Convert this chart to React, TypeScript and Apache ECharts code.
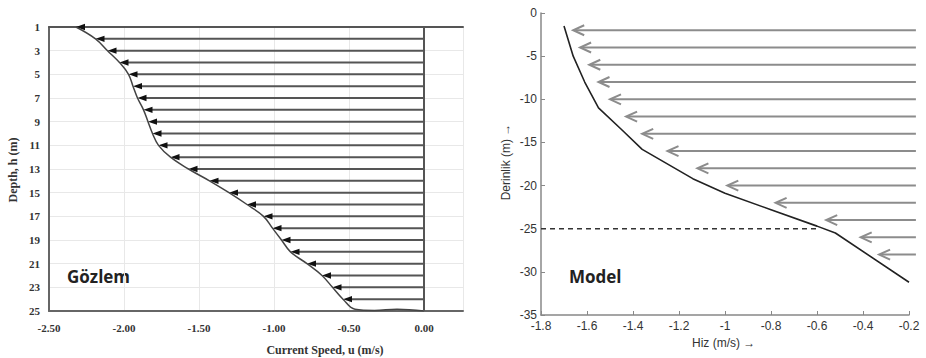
import React, { useEffect, useRef } from 'react';
import * as echarts from 'echarts';

// ---------- Left panel (Gözlem / observation) ----------
const obsDepths = [1, 2, 3, 4, 5, 6, 7, 8, 9, 10, 11, 12, 13, 14, 15, 16, 17, 18, 19, 20, 21, 22, 23, 24];
const obsSpeeds = [-2.32, -2.19, -2.11, -2.03, -1.97, -1.94, -1.91, -1.87, -1.84, -1.81, -1.77, -1.69, -1.57, -1.43, -1.3, -1.18, -1.07, -1.01, -0.95, -0.89, -0.78, -0.68, -0.61, -0.54];
const obsTailSpeeds = [-0.46, -0.33, -0.18, 0.0];
const obsTailDepths = [24.85, 24.95, 24.85, 25];
const obsXMin = -2.5;
const obsXMax = 0.26;

// ---------- Right panel (Model) ----------
const modelArrowDepths = [-2, -4, -6, -8, -10, -12, -14, -16, -18, -20, -22, -24, -26, -28];
const modelArrowTips = [-1.66, -1.63, -1.59, -1.55, -1.5, -1.43, -1.36, -1.25, -1.12, -0.99, -0.78, -0.56, -0.41, -0.33];
const modelArrowStart = -0.17;
const modelCurveSpeeds = [-1.7, -1.66, -1.61, -1.55, -1.45, -1.36, -1.14, -1.0, -0.8, -0.6, -0.52, -0.2];
const modelCurveDepths = [-1.5, -5, -8, -11, -13.5, -15.8, -19.2, -20.9, -22.8, -24.7, -25.5, -31.2];
const refDepth = -25;
const refEndSpeed = -0.59;

const serif = '"Liberation Serif", "DejaVu Serif", serif';
const sans = '"Liberation Sans", Arial, sans-serif';
const boldSans = '"Open Sans", "Noto Sans", sans-serif';

export default function App() {
  const ref = useRef<HTMLDivElement>(null);
  useEffect(() => {
    if (!ref.current) return;
    const chart = echarts.init(ref.current, null, { renderer: 'svg' });

    const obsArrowData = obsDepths.map((d, i) => [obsSpeeds[i], d]);
    const obsCurve = obsDepths.map((d, i) => [obsSpeeds[i], d]).concat(obsTailDepths.map((d, i) => [obsTailSpeeds[i], d]));
    const modelArrowData = modelArrowDepths.map((d, i) => [modelArrowTips[i], d]);
    const modelCurve = modelCurveDepths.map((d, i) => [modelCurveSpeeds[i], d]);

    const option: any = {
      animation: false,
      backgroundColor: '#fff',
      grid: [
        { left: 49, top: 27, width: 414, height: 284 },
        { left: 541, top: 13, width: 368, height: 302 },
      ],
      xAxis: [
        {
          type: 'value', gridIndex: 0, min: obsXMin, max: obsXMax, interval: 0.5,
          axisLine: { show: true, onZero: false, lineStyle: { color: '#666', width: 2 } },
          axisTick: { show: false },
          axisLabel: {
            color: '#333', fontFamily: serif, fontWeight: 'bold', fontSize: 11, margin: 11,
            formatter: (v: number) => (v > 0.001 ? '' : v.toFixed(2)),
          },
          splitLine: { show: true, lineStyle: { color: '#e8e8e8', width: 1 } },
        },
        {
          type: 'value', gridIndex: 0, min: obsXMin, max: obsXMax, position: 'top',
          axisLine: { show: true, onZero: false, lineStyle: { color: '#555', width: 2 } },
          axisTick: { show: false }, axisLabel: { show: false }, splitLine: { show: false },
        },
        {
          type: 'value', gridIndex: 1, min: -1.8, max: -0.2, interval: 0.2,
          axisLine: { show: true, onZero: false, lineStyle: { color: '#888', width: 1.5 } },
          axisTick: { show: true, inside: true, length: 4, lineStyle: { color: '#888' } },
          axisLabel: {
            color: '#333', fontFamily: sans, fontSize: 12, margin: 5,
            formatter: (v: number) => String(Math.round(v * 10) / 10),
          },
          splitLine: { show: false },
        },
      ],
      yAxis: [
        {
          type: 'value', gridIndex: 0, min: 1, max: 25, interval: 2, inverse: true,
          axisLine: { show: true, onZero: false, lineStyle: { color: '#666', width: 2 } },
          axisTick: { show: false },
          axisLabel: { color: '#333', fontFamily: serif, fontWeight: 'bold', fontSize: 11, margin: 9 },
          splitLine: { show: true, lineStyle: { color: '#e8e8e8', width: 1 } },
        },
        {
          type: 'value', gridIndex: 1, min: -35, max: 0, interval: 5,
          axisLine: { show: true, onZero: false, lineStyle: { color: '#888', width: 1.5 } },
          axisTick: { show: true, inside: true, length: 4, lineStyle: { color: '#888' } },
          axisLabel: { color: '#333', fontFamily: sans, fontSize: 12, margin: 4 },
          splitLine: { show: false },
        },
      ],
      series: [
        {
          type: 'custom', xAxisIndex: 0, yAxisIndex: 0, clip: false, z: 3,
          encode: { x: 0, y: 1 },
          data: obsArrowData,
          renderItem: (params: any, api: any) => {
            const v = api.value(0), d = api.value(1);
            const s = api.coord([0, d]);
            const e = api.coord([v, d]);
            return {
              type: 'group',
              children: [
                { type: 'line', shape: { x1: s[0], y1: s[1], x2: e[0] + 5, y2: e[1] }, style: { stroke: '#555', lineWidth: 2 } },
                { type: 'polygon', shape: { points: [[e[0], e[1]], [e[0] + 9, e[1] - 3.2], [e[0] + 9, e[1] + 3.2]] }, style: { fill: '#111' } },
              ],
            };
          },
        },
        {
          type: 'line', xAxisIndex: 0, yAxisIndex: 0, data: obsCurve, smooth: 0.4, showSymbol: false,
          lineStyle: { color: '#444', width: 1.5 }, z: 4,
          markLine: {
            silent: true, symbol: 'none', label: { show: false },
            lineStyle: { color: '#555', width: 2, type: 'solid' },
            data: [[{ coord: [0, 1] }, { coord: [0, 25] }]],
          },
        },
        {
          type: 'custom', xAxisIndex: 2, yAxisIndex: 1, clip: false, z: 3,
          encode: { x: 0, y: 1 },
          data: modelArrowData,
          renderItem: (params: any, api: any) => {
            const v = api.value(0), d = api.value(1);
            const s = api.coord([modelArrowStart, d]);
            const e = api.coord([v, d]);
            return {
              type: 'group',
              children: [
                { type: 'line', shape: { x1: s[0], y1: s[1], x2: e[0] + 2, y2: e[1] }, style: { stroke: '#8c8c8c', lineWidth: 2 } },
                { type: 'polyline', shape: { points: [[e[0] + 11, e[1] - 5], [e[0], e[1]], [e[0] + 11, e[1] + 5]] }, style: { stroke: '#8c8c8c', lineWidth: 2, fill: 'none' } },
              ],
            };
          },
        },
        {
          type: 'line', xAxisIndex: 2, yAxisIndex: 1, data: modelCurve, showSymbol: false,
          lineStyle: { color: '#222', width: 1.6 }, z: 4,
        },
        {
          type: 'line', xAxisIndex: 2, yAxisIndex: 1, data: [[-1.8, refDepth], [refEndSpeed, refDepth]], showSymbol: false,
          lineStyle: { color: '#333', width: 1.5, type: [5, 4] }, z: 4,
        },
      ],
      graphic: [
        { type: 'text', x: 13, y: 170, rotation: Math.PI / 2, style: { text: 'Depth, h (m)', fontFamily: serif, fontWeight: 'bold', fontSize: 12, fill: '#333', textAlign: 'center', textVerticalAlign: 'middle' } },
        { type: 'text', x: 325, y: 350, style: { text: 'Current Speed, u (m/s)', fontFamily: serif, fontWeight: 'bold', fontSize: 12, fill: '#333', textAlign: 'center', textVerticalAlign: 'middle' } },
        { type: 'text', x: 67, y: 276, style: { text: 'Gözlem', fontFamily: boldSans, fontWeight: 'bold', fontSize: 17, fill: '#222', textAlign: 'left', textVerticalAlign: 'middle' } },
        { type: 'text', x: 569, y: 276, style: { text: 'Model', fontFamily: boldSans, fontWeight: 'bold', fontSize: 17, fill: '#222', textAlign: 'left', textVerticalAlign: 'middle' } },
        { type: 'text', x: 506, y: 162, rotation: Math.PI / 2, style: { text: 'Derinlik (m) →', fontFamily: sans, fontSize: 12, fill: '#333', textAlign: 'center', textVerticalAlign: 'middle' } },
        { type: 'text', x: 692, y: 343, style: { text: 'Hiz (m/s) →', fontFamily: sans, fontSize: 12, fill: '#333', textAlign: 'left', textVerticalAlign: 'middle' } },
      ],
    };
    chart.setOption(option);
    return () => chart.dispose();
  }, []);
  return <div ref={ref} style={{ position: 'fixed', left: 0, top: 0, width: 926, height: 358 }} />;
}
